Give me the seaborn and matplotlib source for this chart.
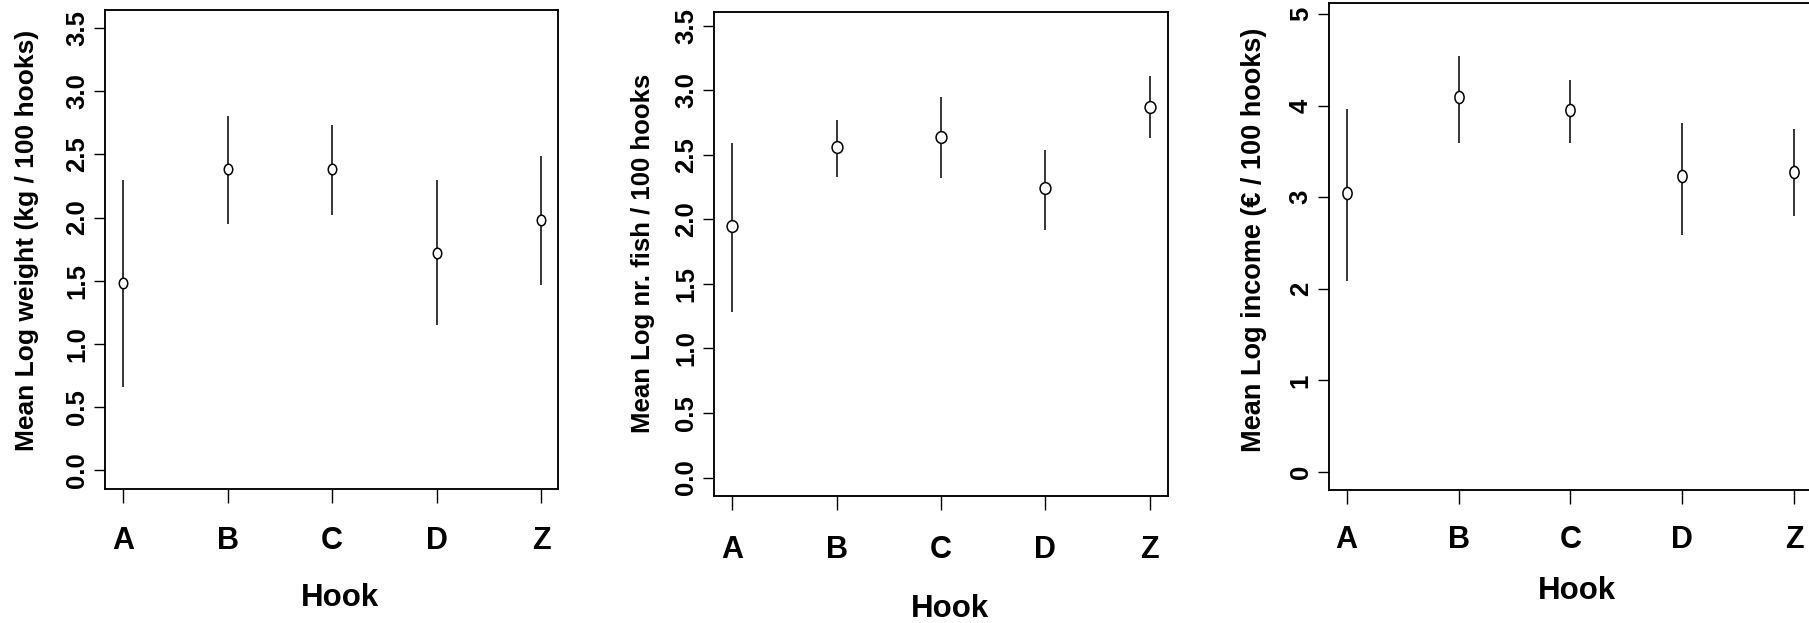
import matplotlib

matplotlib.use("Agg")
import matplotlib.pyplot as plt
import numpy as np
import seaborn as sns
from matplotlib.path import Path
from matplotlib.transforms import Affine2D

HOOKS = ["A", "B", "C", "D", "Z"]

# mean log weight (kg / 100 hooks) with lower / upper interval
weight_mean = [1.48, 2.38, 2.38, 1.72, 1.98]
weight_lo = [0.66, 1.95, 2.02, 1.15, 1.47]
weight_hi = [2.30, 2.80, 2.73, 2.30, 2.49]

# mean log number of fish / 100 hooks
fish_mean = [1.95, 2.56, 2.64, 2.24, 2.87]
fish_lo = [1.28, 2.33, 2.32, 1.92, 2.63]
fish_hi = [2.59, 2.77, 2.95, 2.54, 3.11]

# mean log income (EUR / 100 hooks)
income_mean = [3.05, 4.09, 3.95, 3.23, 3.28]
income_lo = [2.09, 3.59, 3.59, 2.59, 2.79]
income_hi = [3.96, 4.54, 4.28, 3.81, 3.74]

Y_TICKS_SMALL = [0.0, 0.5, 1.0, 1.5, 2.0, 2.5, 3.0, 3.5]
Y_TICKS_INCOME = [0, 1, 2, 3, 4, 5]

sns.set_style("ticks")
plt.rcParams["font.family"] = ["Liberation Sans", "DejaVu Sans"]
plt.rcParams["font.weight"] = "bold"
plt.rcParams["axes.labelweight"] = "bold"

fig = plt.figure(figsize=(18.09, 6.23), dpi=100)

panels = [
    dict(mean=weight_mean, lo=weight_lo, hi=weight_hi, ticks=Y_TICKS_SMALL,
         fmt="{:.1f}", ylabel="Mean Log weight (kg / 100 hooks)",
         rect=[0.05804, 0.2151, 0.25041, 0.76886], xlim=(-0.175, 4.163),
         ylim=(-0.148, 3.642), ylab_xy=(-0.173, 0.518), xlab_xy=(0.519, -0.244),
         xpad=17, marker_aspect=0.80, s=58, ylab_size=19),
    dict(mean=fish_mean, lo=fish_lo, hi=fish_hi, ticks=Y_TICKS_SMALL,
         fmt="{:.1f}", ylabel="Mean Log nr. fish / 100 hooks",
         rect=[0.39469, 0.20305, 0.25097, 0.77721], xlim=(-0.175, 4.175),
         ylim=(-0.147, 3.604), ylab_xy=(-0.156, 0.503), xlab_xy=(0.520, -0.249),
         xpad=17.5, marker_aspect=0.92, s=72, ylab_size=18.5),
    dict(mean=income_mean, lo=income_lo, hi=income_hi, ticks=Y_TICKS_INCOME,
         fmt="{:d}", ylabel="Mean Log income (€ / 100 hooks)",
         rect=[0.73449, 0.21348, 0.26717, 0.78122], xlim=(-0.161, 4.161),
         ylim=(-0.197, 5.117), ylab_xy=(-0.155, 0.514), xlab_xy=(0.514, -0.224),
         xpad=15.5, marker_aspect=0.76, s=76, ylab_size=19.5),
]

for p in panels:
    ax = fig.add_axes(p["rect"])
    # open ellipse marker like the stretched R "o"
    ring = Path.unit_circle().transformed(Affine2D().scale(p["marker_aspect"], 1.0))
    ax.vlines(HOOKS, p["lo"], p["hi"], colors="black", lw=1.1, zorder=2)
    sns.scatterplot(x=HOOKS, y=p["mean"], ax=ax, marker=ring, s=p["s"],
                    facecolor="white", edgecolor="black", linewidth=1.1,
                    zorder=3, legend=False)
    ax.set_xlim(*p["xlim"])
    ax.set_ylim(*p["ylim"])
    ax.set_yticks(p["ticks"])
    ax.set_yticklabels([p["fmt"].format(t) for t in p["ticks"]])
    for sp in ax.spines.values():
        sp.set_visible(True)
        sp.set_linewidth(1.35)
        sp.set_color("black")
    ax.tick_params(axis="x", length=10, width=1.0, pad=p["xpad"],
                   labelsize=22, colors="black")
    ax.tick_params(axis="y", length=8, width=1.0, pad=3.5, labelsize=18.5,
                   labelrotation=90, colors="black")
    for lab in ax.get_yticklabels():
        lab.set_va("center")
    ax.set_ylabel(p["ylabel"], fontsize=p["ylab_size"], color="black")
    ax.yaxis.label.set_va("center")
    ax.yaxis.set_label_coords(*p["ylab_xy"])
    ax.set_xlabel("Hook", fontsize=22.5, color="black")
    ax.xaxis.label.set_va("baseline")
    ax.xaxis.set_label_coords(*p["xlab_xy"])

fig.savefig("out.png", dpi=100, facecolor="white")
